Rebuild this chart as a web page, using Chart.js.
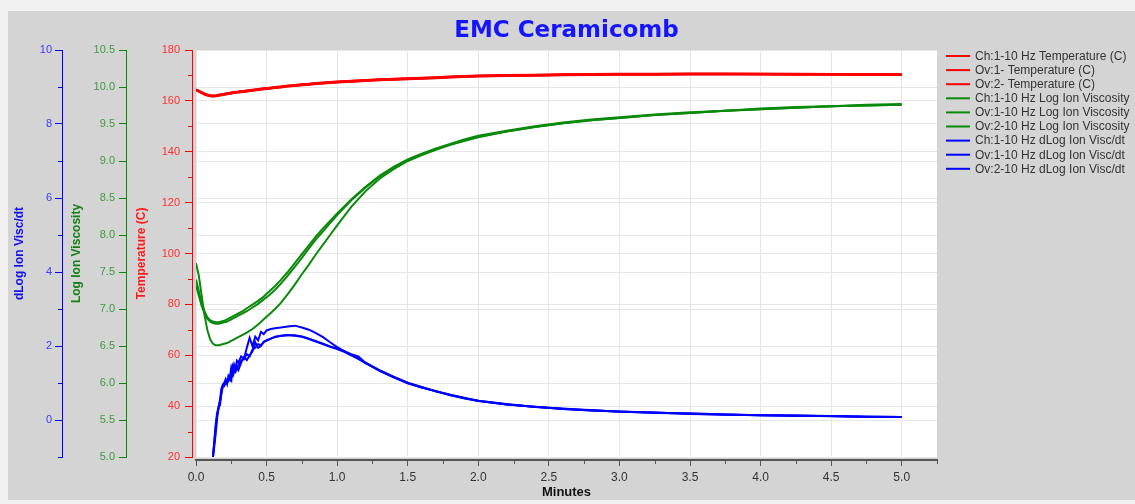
<!DOCTYPE html>
<html><head><meta charset="utf-8">
<script src="https://cdn.jsdelivr.net/npm/chart.js@4.4.1/dist/chart.umd.min.js"></script>
<style>html,body{margin:0;padding:0;background:#f0f0f0;overflow:hidden}canvas{display:block}</style>
</head><body>
<canvas id="c" width="1135" height="504"></canvas>
<script>
const chartTitle = 'EMC Ceramicomb';
const xTitle = 'Minutes';
const tempTitle = 'Temperature (C)';
const viscTitle = 'Log Ion Viscosity';
const dlogTitle = 'dLog Ion Visc/dt';
const seriesLabels = [
  'Ch:1-10 Hz Temperature (C)',
  'Ov:1- Temperature (C)',
  'Ov:2- Temperature (C)',
  'Ch:1-10 Hz Log Ion Viscosity',
  'Ov:1-10 Hz Log Ion Viscosity',
  'Ov:2-10 Hz Log Ion Viscosity',
  'Ch:1-10 Hz dLog Ion Visc/dt',
  'Ov:1-10 Hz dLog Ion Visc/dt',
  'Ov:2-10 Hz dLog Ion Visc/dt'
];

// time axis for temperature and viscosity (minutes)
const minutes = [0,0.02,0.04,0.06,0.08,0.10,0.12,0.14,0.16,0.18,0.20,0.22,0.24,0.26,0.28,0.30,0.33,0.36,0.40,0.44,0.48,0.52,0.56,0.60,0.65,0.70,0.75,0.80,0.85,0.90,0.95,1.0,1.1,1.2,1.3,1.4,1.5,1.6,1.7,1.8,1.9,2.0,2.2,2.4,2.6,2.8,3.0,3.25,3.5,3.75,4.0,4.25,4.5,4.75,5.0];

const tempCh1 = [164.3,163.8,163.2,162.7,162.3,162.0,161.9,162.0,162.2,162.4,162.6,162.8,163.0,163.2,163.4,163.5,163.7,163.9,164.2,164.5,164.8,165.0,165.3,165.5,165.8,166.0,166.3,166.5,166.8,167.0,167.2,167.4,167.7,168.0,168.3,168.5,168.7,168.9,169.1,169.4,169.6,169.8,170.0,170.1,170.3,170.4,170.5,170.5,170.6,170.6,170.6,170.5,170.5,170.4,170.4];
const tempOv1 = [164.4,163.9,163.3,162.8,162.4,162.1,162.0,162.1,162.3,162.5,162.7,162.9,163.1,163.3,163.5,163.6,163.8,164.0,164.3,164.6,164.9,165.1,165.4,165.6,165.9,166.1,166.4,166.6,166.9,167.1,167.3,167.5,167.8,168.1,168.4,168.6,168.8,169.0,169.2,169.5,169.7,169.9,170.1,170.2,170.4,170.5,170.6,170.6,170.7,170.7,170.6,170.6,170.5,170.5,170.4];
const tempOv2 = [164.2,163.7,163.1,162.6,162.2,161.9,161.8,161.9,162.1,162.3,162.5,162.7,162.9,163.1,163.3,163.4,163.6,163.8,164.1,164.4,164.7,164.9,165.2,165.4,165.7,165.9,166.2,166.4,166.7,166.9,167.1,167.3,167.6,167.9,168.2,168.4,168.6,168.8,169.0,169.3,169.5,169.7,169.9,170.0,170.2,170.3,170.4,170.4,170.5,170.5,170.5,170.4,170.4,170.3,170.3];

const viscCh1 = [7.32,7.18,7.04,6.94,6.87,6.83,6.81,6.80,6.80,6.81,6.82,6.83,6.85,6.87,6.89,6.91,6.94,6.97,7.02,7.07,7.13,7.19,7.26,7.34,7.45,7.57,7.69,7.82,7.94,8.05,8.16,8.27,8.47,8.64,8.79,8.91,9.01,9.09,9.16,9.22,9.28,9.33,9.40,9.46,9.51,9.55,9.58,9.62,9.65,9.68,9.70,9.72,9.74,9.75,9.76];
const viscOv1 = [7.40,7.24,7.08,6.97,6.89,6.85,6.83,6.82,6.82,6.83,6.84,6.86,6.88,6.90,6.92,6.94,6.97,7.01,7.06,7.11,7.17,7.24,7.31,7.39,7.50,7.62,7.74,7.86,7.98,8.09,8.19,8.29,8.48,8.65,8.80,8.92,9.02,9.10,9.17,9.23,9.29,9.34,9.41,9.47,9.52,9.56,9.59,9.63,9.66,9.68,9.71,9.73,9.74,9.76,9.77];
const viscOv2 = [7.62,7.45,7.18,6.92,6.72,6.59,6.53,6.51,6.51,6.52,6.53,6.54,6.56,6.58,6.60,6.62,6.65,6.68,6.73,6.79,6.86,6.93,7.00,7.08,7.20,7.33,7.47,7.60,7.74,7.87,8.00,8.13,8.38,8.59,8.76,8.89,9.00,9.08,9.15,9.22,9.27,9.32,9.40,9.46,9.51,9.55,9.58,9.62,9.65,9.68,9.70,9.72,9.74,9.75,9.76];

// time axis for the derivative (starts later)
const blueMinutes = [0.12,0.13,0.14,0.15,0.16,0.17,0.18,0.19,0.20,0.21,0.22,0.23,0.24,0.25,0.26,0.27,0.28,0.29,0.30,0.32,0.34,0.36,0.38,0.40,0.42,0.44,0.46,0.48,0.50,0.53,0.56,0.60,0.65,0.70,0.75,0.80,0.85,0.90,0.95,1.0,1.05,1.1,1.15,1.2,1.3,1.4,1.5,1.6,1.7,1.8,1.9,2.0,2.2,2.4,2.6,2.8,3.0,3.25,3.5,3.75,4.0,4.25,4.5,4.75,5.0];
const dlogCh1 = [-1.0,-0.7,-0.35,0.05,0.35,0.55,0.85,0.95,0.92,1.02,1.0,1.12,1.08,1.05,1.45,1.35,1.3,1.42,1.35,1.55,1.7,1.62,1.75,1.85,2.1,1.95,2.0,2.12,2.14,2.2,2.24,2.27,2.29,2.29,2.26,2.2,2.13,2.06,1.99,1.93,1.86,1.76,1.66,1.54,1.34,1.16,1.0,0.88,0.78,0.68,0.59,0.52,0.42,0.36,0.30,0.26,0.23,0.20,0.17,0.14,0.13,0.12,0.11,0.09,0.08];
const dlogOv1 = [-1.0,-0.6,-0.2,0.15,0.3,0.5,0.7,0.95,1.0,0.98,1.08,1.05,1.15,1.2,1.18,1.3,1.42,1.38,1.48,1.6,1.66,1.78,1.72,1.9,1.95,2.05,2.02,2.1,2.16,2.2,2.25,2.28,2.3,2.28,2.25,2.19,2.12,2.05,1.98,1.92,1.84,1.75,1.65,1.55,1.35,1.17,1.01,0.89,0.77,0.68,0.60,0.52,0.43,0.35,0.31,0.26,0.23,0.19,0.18,0.15,0.13,0.12,0.10,0.09,0.08];
const dlogOv2 = [-1.0,-0.55,-0.1,0.2,0.35,0.4,0.75,0.9,1.0,1.1,0.98,1.2,1.15,1.42,1.3,1.5,1.38,1.6,1.55,1.72,1.65,1.95,2.22,2.0,2.25,2.15,2.38,2.32,2.42,2.46,2.48,2.5,2.53,2.55,2.5,2.44,2.35,2.24,2.1,1.97,1.86,1.78,1.72,1.55,1.33,1.15,0.99,0.88,0.78,0.67,0.59,0.51,0.42,0.36,0.30,0.27,0.22,0.20,0.16,0.15,0.13,0.11,0.11,0.09,0.08];

const RED = '#ff0000', GREEN = '#0a8a0a', BLUE = '#0000ff';
const FONT = '"Liberation Sans", Arial, Helvetica, sans-serif';
Chart.defaults.font.family = FONT;

function pts(xs, ys) { return xs.map((x, i) => ({ x: x, y: ys[i] })); }
function near(v, step) { const q = v / step; return Math.abs(q - Math.round(q)) < 1e-6; }
function line(label, xs, ys, color, axis, w) {
  return { label: label, data: pts(xs, ys), yAxisID: axis, borderColor: color, backgroundColor: color,
    borderWidth: w, pointRadius: 0, tension: 0, fill: false };
}

// major step per axis: ticks off the major step are drawn short (minor)
const majorStep = { x: 0.5, yT: 20, yV: 0.5, yD: 2 };
const MINOR_LEN = 4;

const bgPlugin = {
  id: 'bg',
  beforeDraw(chart) {
    const { ctx, chartArea: a } = chart;
    ctx.save();
    ctx.fillStyle = '#f0f0f0'; ctx.fillRect(0, 0, chart.width, chart.height);
    ctx.fillStyle = '#d4d4d4'; ctx.fillRect(8, 11, chart.width - 8, 489);
    ctx.fillStyle = '#ffffff'; ctx.fillRect(a.left, a.top, a.right - a.left, a.bottom - a.top);
    ctx.restore();
  }
};
const placePlugin = {
  id: 'place',
  afterLayout(chart) {
    const s = chart.scales;
    s.yD.left = 8;   s.yD.right = 62;
    s.yV.left = 62;  s.yV.right = 126;
    s.yT.left = 126; s.yT.right = 192;
    s.x.top = 460;   s.x.bottom = 504;
  }
};
const minorTickPlugin = {
  id: 'minorTicks',
  afterDraw(chart) {
    const ctx = chart.ctx;
    ctx.save();
    ctx.lineWidth = 1;
    Object.keys(majorStep).forEach(id => {
      const sc = chart.scales[id];
      ctx.strokeStyle = sc.options.border.color;
      sc.ticks.forEach(t => {
        if (near(t.value, majorStep[id])) return;
        const p = Math.round(sc.getPixelForValue(t.value)) + 0.5;
        ctx.beginPath();
        if (sc.isHorizontal()) { ctx.moveTo(p, sc.top); ctx.lineTo(p, sc.top + MINOR_LEN); }
        else { ctx.moveTo(sc.right - MINOR_LEN, p); ctx.lineTo(sc.right, p); }
        ctx.stroke();
      });
    });
    ctx.restore();
  }
};
const legendPlugin = {
  id: 'sideLegend',
  afterDraw(chart) {
    const ctx = chart.ctx;
    ctx.save();
    ctx.font = '12px ' + FONT;
    ctx.textBaseline = 'middle';
    ctx.textAlign = 'left';
    chart.data.datasets.forEach((ds, i) => {
      const y = 56 + i * 14.1;
      ctx.strokeStyle = ds.borderColor; ctx.lineWidth = 2;
      ctx.beginPath(); ctx.moveTo(946, y); ctx.lineTo(970, y); ctx.stroke();
      ctx.fillStyle = '#333333';
      ctx.fillText(ds.label, 975, y + 0.5);
    });
    ctx.restore();
  }
};

const GRID = '#e6e6e6';
const TRANSP = 'rgba(0,0,0,0)';
function majorColor(id, color) {
  return c => (c.tick && near(c.tick.value, majorStep[id])) ? color : TRANSP;
}

new Chart(document.getElementById('c'), {
  type: 'line',
  data: {
    datasets: [
      line(seriesLabels[0], minutes, tempCh1, RED, 'yT', 2.5),
      line(seriesLabels[1], minutes, tempOv1, RED, 'yT', 2.5),
      line(seriesLabels[2], minutes, tempOv2, RED, 'yT', 2.5),
      line(seriesLabels[3], minutes, viscCh1, GREEN, 'yV', 2),
      line(seriesLabels[4], minutes, viscOv1, GREEN, 'yV', 2),
      line(seriesLabels[5], minutes, viscOv2, GREEN, 'yV', 2),
      line(seriesLabels[6], blueMinutes, dlogCh1, BLUE, 'yD', 2),
      line(seriesLabels[7], blueMinutes, dlogOv1, BLUE, 'yD', 2),
      line(seriesLabels[8], blueMinutes, dlogOv2, BLUE, 'yD', 2)
    ]
  },
  options: {
    responsive: false,
    animation: false,
    devicePixelRatio: 1,
    layout: { padding: { left: 8, right: 198, top: 0, bottom: 0 } },
    plugins: {
      legend: { display: false },
      tooltip: { enabled: false },
      title: {
        display: true, text: chartTitle, fullSize: false, color: '#1414ff',
        font: { size: 23, weight: 'bold', family: '"DejaVu Sans", Verdana, sans-serif' },
        padding: { top: 17, bottom: 5.4 }
      }
    },
    scales: {
      x: {
        type: 'linear', min: 0, max: 5.25,
        afterFit(s) { s.height = 47; },
        ticks: {
          stepSize: 0.25, autoSkip: false, maxRotation: 0, color: '#333333', padding: 4,
          font: { size: 12 },
          callback(v) { return near(v, 0.5) ? v.toFixed(1) : ''; }
        },
        grid: {
          color: majorColor('x', GRID),
          tickColor: majorColor('x', '#555555'), tickLength: 6, lineWidth: 1
        },
        border: { color: '#555555', width: 2 },
        title: { display: true, text: xTitle, color: '#111111', font: { size: 13, weight: 'bold' }, padding: { top: 0, bottom: 4 } }
      },
      yT: {
        type: 'linear', position: 'left', weight: 0, min: 20, max: 180,
        afterFit(s) { s.width = 70; },
        ticks: {
          stepSize: 10, autoSkip: false, color: '#ff3030', padding: 5, font: { size: 11 },
          callback(v) { return near(v, 20) ? String(v) : ''; }
        },
        grid: {
          color: majorColor('yT', GRID),
          tickColor: majorColor('yT', RED), tickLength: 7, lineWidth: 1
        },
        border: { color: RED, width: 1 },
        title: { display: true, text: tempTitle, color: '#ff1a1a', font: { size: 12, weight: 'bold' }, padding: { top: 8.8, bottom: 0 } }
      },
      yV: {
        type: 'linear', position: 'left', weight: 1, min: 5, max: 10.5,
        afterFit(s) { s.width = 64; },
        ticks: {
          stepSize: 0.5, autoSkip: false, color: '#3f9a3f', padding: 4, font: { size: 11 },
          callback(v) { return v.toFixed(1); }
        },
        grid: { color: GRID, tickColor: GREEN, tickLength: 7, lineWidth: 1 },
        border: { color: GREEN, width: 1 },
        title: { display: true, text: viscTitle, color: '#138013', font: { size: 12, weight: 'bold' }, padding: { top: 7.8, bottom: 0 } }
      },
      yD: {
        type: 'linear', position: 'left', weight: 2, min: -1, max: 10,
        afterFit(s) { s.width = 54; },
        ticks: {
          stepSize: 1, autoSkip: false, color: '#3c3cf5', padding: 3, font: { size: 11 },
          callback(v) { return near(v, 2) ? String(v) : ''; }
        },
        grid: { drawOnChartArea: false, color: TRANSP, tickColor: majorColor('yD', BLUE), tickLength: 7, lineWidth: 1 },
        border: { color: BLUE, width: 1 },
        title: { display: true, text: dlogTitle, color: '#1010f0', font: { size: 12, weight: 'bold' }, padding: { top: 4.8, bottom: 0 } }
      }
    }
  },
  plugins: [bgPlugin, placePlugin, minorTickPlugin, legendPlugin]
});
</script>
</body></html>
